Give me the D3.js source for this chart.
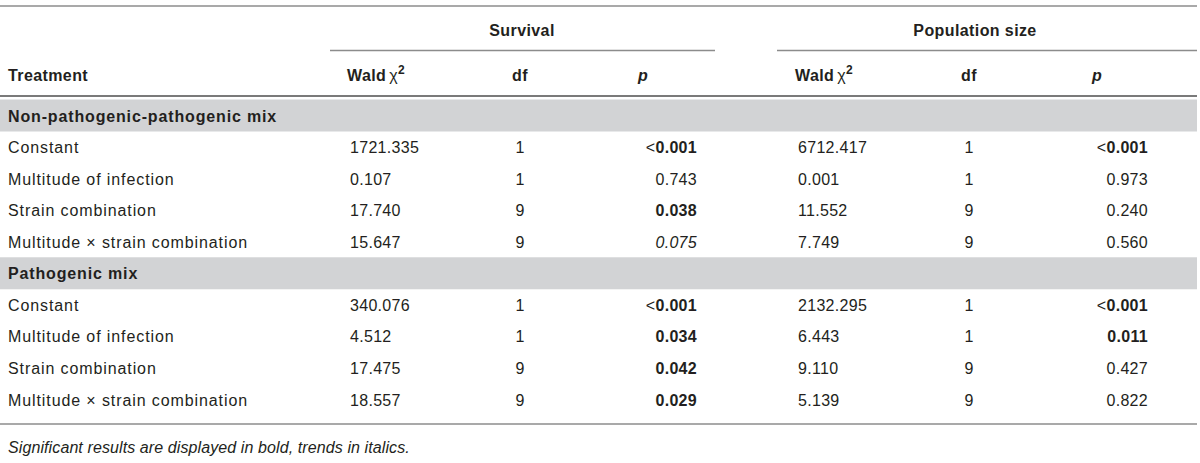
<!DOCTYPE html>
<html>
<head>
<meta charset="utf-8">
<script src="https://cdn.jsdelivr.net/npm/d3@7"></script>
<style>
  body { margin: 0; background: #fff; }
  svg text { font-family: "Liberation Sans", Arial, sans-serif; fill: #231f20; font-size: 16px; }
  .lbl { letter-spacing: 0.9px; }
  .num { letter-spacing: 0.3px; }
  .hdr { font-weight: bold; letter-spacing: 0.4px; }
  .grp { font-weight: bold; letter-spacing: 0.85px; }
  .note { font-style: italic; letter-spacing: 0.1px; }
</style>
</head>
<body>
<svg id="tbl" width="1200" height="463"></svg>
<script>
// table content
var groups = ["Non-pathogenic-pathogenic mix", "Pathogenic mix"];
var effects = ["Constant", "Multitude of infection", "Strain combination", "Multitude \u00d7 strain combination"];
var survivalWald = [["1721.335", "0.107", "17.740", "15.647"], ["340.076", "4.512", "17.475", "18.557"]];
var survivalDf = [[1, 1, 9, 9], [1, 1, 9, 9]];
var survivalP = [["<0.001", "0.743", "0.038", "0.075"], ["<0.001", "0.034", "0.042", "0.029"]];
var popWald = [["6712.417", "0.001", "11.552", "7.749"], ["2132.295", "6.443", "9.110", "5.139"]];
var popDf = [[1, 1, 9, 9], [1, 1, 9, 9]];
var popP = [["<0.001", "0.973", "0.240", "0.560"], ["<0.001", "0.011", "0.427", "0.822"]];
var blocks = ["Survival", "Population size"];
var footnote = "Significant results are displayed in bold, trends in italics.";

var svg = d3.select("#tbl");

// row positions (group title rows + effect rows)
var rowY = d3.scaleLinear().domain([0, 9]).range([116, 400]);

// column anchors per block
var blockX = [{x0: 330, x1: 715, mid: 522, wh: 347, wald: 350, df: 520, p: 697, ph: 638},
              {x0: 777, x1: 1197, mid: 975, wh: 795, wald: 798, df: 969, p: 1148, ph: 1092}];

function line(x1, x2, y, color, w){
  svg.append("line").attr("x1", x1).attr("x2", x2).attr("y1", y).attr("y2", y)
    .attr("stroke", color).attr("stroke-width", w);
}

line(0, 1197, 6, "#8c8c8c", 1.5);

// block titles and underlines
blocks.forEach(function(b, i){
  var c = blockX[i];
  svg.append("text").attr("class", "hdr").attr("x", c.mid).attr("y", 30).attr("dy", "0.35em")
    .attr("text-anchor", "middle").text(b);
  line(c.x0, c.x1, 50.5, "#8c8c8c", 1.5);
});

// header row
var hy = 75;
svg.append("text").attr("class", "hdr").attr("x", 8).attr("y", hy).attr("dy", "0.35em").text("Treatment");
blockX.forEach(function(c){
  var t = svg.append("text").attr("class", "hdr").attr("x", c.wh).attr("y", hy).attr("dy", "0.35em");
  t.append("tspan").text("Wald");
  t.append("tspan").attr("dx", 3).attr("font-weight", "normal").text("\u03c7");
  t.append("tspan").attr("dy", -7).attr("font-size", 12).text("2");
  svg.append("text").attr("class", "hdr").attr("x", c.df).attr("y", hy).attr("dy", "0.35em")
    .attr("text-anchor", "middle").text("df");
  svg.append("text").attr("class", "hdr").attr("x", c.ph).attr("y", hy).attr("dy", "0.35em")
    .attr("font-style", "italic").text("p");
});
line(0, 1197, 96, "#7a7a7a", 2);

function pStyle(s){
  var v = s.charAt(0) === "<" ? 0 : +s;
  if (v < 0.05) return "bold";
  if (v < 0.1) return "italic";
  return "normal";
}

function pText(x, y, s){
  var t = svg.append("text").attr("class", "num").attr("x", x).attr("y", y).attr("dy", "0.35em")
    .attr("text-anchor", "end");
  var st = pStyle(s);
  if (s.charAt(0) === "<") {
    t.append("tspan").text("<");
    t.append("tspan").attr("font-weight", "bold").text(s.slice(1));
  } else {
    t.text(s);
    if (st === "bold") t.attr("font-weight", "bold");
    if (st === "italic") t.attr("font-style", "italic");
  }
}

groups.forEach(function(g, gi){
  var r0 = gi * 5;
  var y = rowY(r0);
  svg.append("rect").attr("x", 0).attr("y", y - 16.5).attr("width", 1197).attr("height", 32)
    .attr("fill", "#d2d3d5");
  svg.append("text").attr("class", "grp").attr("x", 8).attr("y", y).attr("dy", "0.35em").text(g);

  effects.forEach(function(e, ei){
    var ry = rowY(r0 + 1 + ei);
    svg.append("text").attr("class", "lbl").attr("x", 8).attr("y", ry).attr("dy", "0.35em").text(e);
    var cols = [[survivalWald, survivalDf, survivalP], [popWald, popDf, popP]];
    cols.forEach(function(cset, bi){
      var c = blockX[bi];
      svg.append("text").attr("class", "num").attr("x", c.wald).attr("y", ry).attr("dy", "0.35em")
        .text(cset[0][gi][ei]);
      svg.append("text").attr("class", "num").attr("x", c.df).attr("y", ry).attr("dy", "0.35em")
        .attr("text-anchor", "middle").text(cset[1][gi][ei]);
      pText(c.p, ry, cset[2][gi][ei]);
    });
  });
});

line(0, 1197, 424, "#8c8c8c", 1.5);
svg.append("text").attr("class", "note").attr("x", 8).attr("y", 447).attr("dy", "0.35em").text(footnote);
</script>
</body>
</html>
